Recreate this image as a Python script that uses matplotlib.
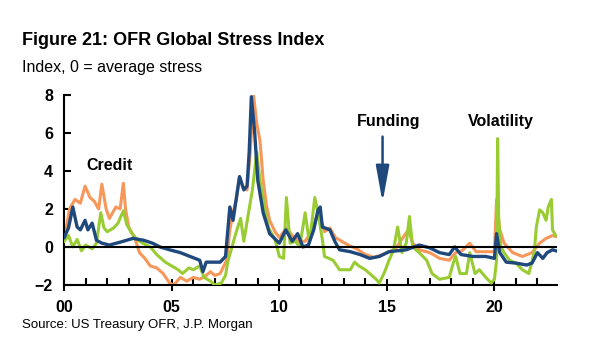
import matplotlib.pyplot as plt
from matplotlib.ticker import FixedLocator

# Credit (orange)
credit_x = [2000.0, 2000.25, 2000.5, 2000.75, 2000.97, 2001.2, 2001.4, 2001.6, 2001.75, 2001.95,
            2002.1, 2002.4, 2002.6, 2002.75, 2002.85, 2003.0, 2003.3, 2003.5, 2003.75, 2004.0,
            2004.3, 2004.6, 2004.9, 2005.1, 2005.4, 2005.7, 2006.0, 2006.3, 2006.6, 2006.8,
            2007.0, 2007.25, 2007.55, 2007.7, 2007.85, 2008.0, 2008.15, 2008.3, 2008.5, 2008.65,
            2008.8, 2008.95, 2009.1, 2009.25, 2009.4, 2009.55, 2009.8, 2010.0, 2010.35, 2010.6,
            2010.9, 2011.2, 2011.5, 2011.8, 2011.95, 2012.1, 2012.35, 2012.6, 2012.9, 2013.2,
            2013.6, 2014.0, 2014.4, 2014.8, 2015.1, 2015.4, 2015.75, 2016.0, 2016.2, 2016.5,
            2017.0, 2017.45, 2017.9, 2018.2, 2018.5, 2018.85, 2019.15, 2019.6, 2020.0, 2020.1,
            2020.25, 2020.45, 2020.85, 2021.3, 2021.75, 2022.1, 2022.4, 2022.7, 2022.85]
credit = [0.4, 2.0, 2.5, 2.3, 3.2, 2.6, 2.4, 2.0, 3.3, 2.0,
          1.5, 2.1, 2.0, 3.35, 2.0, 1.05, 0.4, -0.3, -0.6, -1.0,
          -1.1, -1.4, -1.9, -2.0, -1.6, -1.8, -1.6, -1.7, -1.5, -1.3,
          -1.5, -1.4, -0.7, 0.9, 1.8, 2.5, 3.7, 3.2, 3.0, 5.0,
          8.0, 6.5, 5.6, 3.5, 2.2, 1.4, 0.8, 0.5, 1.0, 0.6,
          0.3, 0.3, 0.8, 1.8, 1.4, 0.8, 1.0, 0.5, 0.3, 0.1,
          -0.1, -0.4, -0.55, -0.4, -0.25, -0.1, 0.5, 0.9, 0.2, -0.15,
          -0.3, -0.6, -0.7, -0.3, -0.2, 0.2, -0.25, -0.25, -0.25, 2.5,
          0.9, 0.2, -0.3, -0.5, -0.3, 0.2, 0.45, 0.6, 0.55]

# Volatility (green)
vol_x = [2000.0, 2000.2, 2000.4, 2000.6, 2000.8, 2001.0, 2001.3, 2001.5, 2001.7, 2001.85,
         2002.0, 2002.3, 2002.5, 2002.75, 2002.9, 2003.1, 2003.3, 2003.5, 2003.8, 2004.0,
         2004.3, 2004.7, 2005.0, 2005.3, 2005.5, 2005.8, 2006.0, 2006.3, 2006.5, 2006.8,
         2007.0, 2007.3, 2007.5, 2007.6, 2007.8, 2008.0, 2008.2, 2008.35, 2008.6, 2008.75,
         2008.95, 2009.1, 2009.25, 2009.5, 2009.8, 2010.0, 2010.2, 2010.33, 2010.5, 2010.75,
         2010.95, 2011.2, 2011.4, 2011.65, 2011.8, 2012.0, 2012.1, 2012.5, 2012.8, 2013.3,
         2013.5, 2013.7, 2014.0, 2014.2, 2014.5, 2014.65, 2014.9, 2015.1, 2015.3, 2015.5,
         2015.7, 2015.9, 2016.05, 2016.2, 2016.5, 2016.85, 2017.1, 2017.45, 2017.9, 2018.1,
         2018.2, 2018.4, 2018.7, 2018.85, 2019.1, 2019.3, 2019.6, 2019.85, 2020.0, 2020.1,
         2020.15, 2020.2, 2020.3, 2020.45, 2020.7, 2021.0, 2021.3, 2021.6, 2021.85, 2021.95,
         2022.1, 2022.25, 2022.4, 2022.5, 2022.65, 2022.7, 2022.85]
volatility = [0.3, 0.6, 0.0, 0.4, -0.2, 0.1, -0.1, 0.2, 1.8, 1.0,
              0.8, 1.0, 1.25, 1.9, 1.2, 0.8, 0.5, 0.3, 0.1, 0.0,
              -0.4, -0.8, -1.0, -1.2, -1.4, -1.1, -1.2, -1.0, -1.6, -1.8,
              -2.0, -1.9, -1.5, -0.8, 0.0, 0.8, 1.5, 0.3, 2.0, 3.0,
              5.0, 3.5, 2.5, 1.0, 0.4, -0.5, -0.6, 2.6, 0.2, 0.3,
              0.0, 1.8, 0.2, 2.6, 1.8, 0.4, -0.5, -0.7, -1.2, -1.2,
              -0.8, -1.0, -1.2, -1.4, -1.7, -1.9, -1.3, -0.7, -0.2, 1.05,
              -0.3, 0.2, 1.6, 0.0, -0.3, -0.7, -1.4, -1.7, -1.6, -0.8,
              -0.5, -1.4, -1.4, -0.3, -1.4, -1.2, -1.6, -1.9, -1.7, -0.7,
              5.7, 1.4, 0.0, -0.3, -0.7, -0.85, -1.2, -1.4, -0.3, 1.05,
              1.95, 1.8, 1.4, 2.1, 2.5, 0.9, 0.6]

# Funding (dark blue)
fund_x = [2000.0, 2000.2, 2000.4, 2000.6, 2000.75, 2000.97, 2001.1, 2001.3, 2001.5, 2001.75,
          2002.1, 2002.6, 2002.9, 2003.2, 2003.7, 2004.1, 2004.45, 2004.9, 2005.4, 2005.85,
          2006.3, 2006.45, 2006.6, 2006.8, 2007.25, 2007.5, 2007.7, 2007.85, 2008.15, 2008.35,
          2008.5, 2008.6, 2008.7, 2008.85, 2009.0, 2009.25, 2009.55, 2010.0, 2010.3, 2010.6,
          2010.85, 2011.1, 2011.35, 2011.6, 2011.8, 2011.9, 2012.0, 2012.35, 2012.6, 2012.8,
          2013.3, 2013.75, 2014.2, 2014.65, 2015.1, 2015.9, 2016.5, 2017.0, 2017.45, 2017.9,
          2018.15, 2018.45, 2019.0, 2019.6, 2020.0, 2020.1, 2020.25, 2020.55, 2021.0, 2021.5,
          2021.75, 2022.0, 2022.25, 2022.45, 2022.7, 2022.85]
funding = [0.5, 1.0, 2.1, 1.05, 0.9, 1.4, 0.9, 1.25, 0.35, 0.2,
           0.1, 0.25, 0.35, 0.45, 0.35, 0.2, 0.0, -0.15, -0.3, -0.5,
           -0.7, -1.3, -0.8, -0.8, -0.8, -0.5, 2.1, 1.4, 3.7, 3.0,
           3.2, 5.0, 7.9, 6.1, 3.5, 1.8, 0.7, 0.2, 0.9, 0.3,
           0.7, 0.0, 0.1, 0.9, 1.95, 2.1, 1.05, 0.9, 0.25, -0.15,
           -0.25, -0.4, -0.6, -0.5, -0.25, -0.15, 0.1, -0.05, -0.3, -0.4,
           0.0, -0.4, -0.5, -0.5, -0.6, 0.7, -0.3, -0.8, -0.85, -0.95,
           -0.85, -0.3, -0.6, -0.3, -0.15, -0.2]

year_ticks = [2000, 2005, 2010, 2015, 2020]
year_labels = ['00', '05', '10', '15', '20']

orange = '#F7975A'
green = '#99CC33'
navy = '#1F497D'

plt.rcParams['font.family'] = ['Liberation Sans', 'DejaVu Sans']

fig = plt.figure(figsize=(6, 3.58), dpi=100)
ax = fig.add_axes([0.107, 0.204, 0.821, 0.531])

ax.plot(credit_x, credit, color=orange, lw=2.2, zorder=2)
ax.plot(vol_x, volatility, color=green, lw=2.2, zorder=3)
ax.plot(fund_x, funding, color=navy, lw=2.4, zorder=4)
ax.axhline(0, color='black', lw=1.5, zorder=5)

ax.set_xlim(2000, 2022.9)
ax.set_ylim(-2, 8)
ax.set_yticks([-2, 0, 2, 4, 6, 8])
ax.set_xticks(year_ticks)
ax.set_xticklabels(year_labels)
ax.xaxis.set_minor_locator(FixedLocator(range(2000, 2023)))

for s in ['top', 'right']:
    ax.spines[s].set_visible(False)
ax.spines['left'].set_linewidth(1.5)
ax.spines['bottom'].set_linewidth(1.5)
ax.tick_params(axis='y', direction='in', length=5, width=1.5, labelsize=11.5, pad=8)
ax.tick_params(axis='x', which='major', direction='inout', length=9, width=1.5, labelsize=11.5, pad=6)
ax.tick_params(axis='x', which='minor', direction='in', length=5, width=1.5)
for lab in ax.get_xticklabels() + ax.get_yticklabels():
    lab.set_fontweight('bold')

ax.text(2002.1, 4.3, 'Credit', ha='center', va='center', fontsize=11.5, fontweight='bold')
ax.text(2015.1, 6.6, 'Funding', ha='center', va='center', fontsize=11.5, fontweight='bold')
ax.text(2020.3, 6.6, 'Volatility', ha='center', va='center', fontsize=11.5, fontweight='bold')
ax.annotate('', xy=(2014.8, 2.2), xytext=(2014.8, 5.95),
            arrowprops=dict(arrowstyle='-|>,head_length=1.1,head_width=0.2',
                            color=navy, lw=1.8, mutation_scale=20))

fig.text(0.037, 0.888, 'Figure 21: OFR Global Stress Index', fontsize=13, fontweight='bold', va='center')
fig.text(0.037, 0.812, 'Index, 0 = average stress', fontsize=11.5, va='center')
fig.text(0.037, 0.092, 'Source: US Treasury OFR, J.P. Morgan', fontsize=9.5, va='center')

fig.savefig('out.png', dpi=100)
